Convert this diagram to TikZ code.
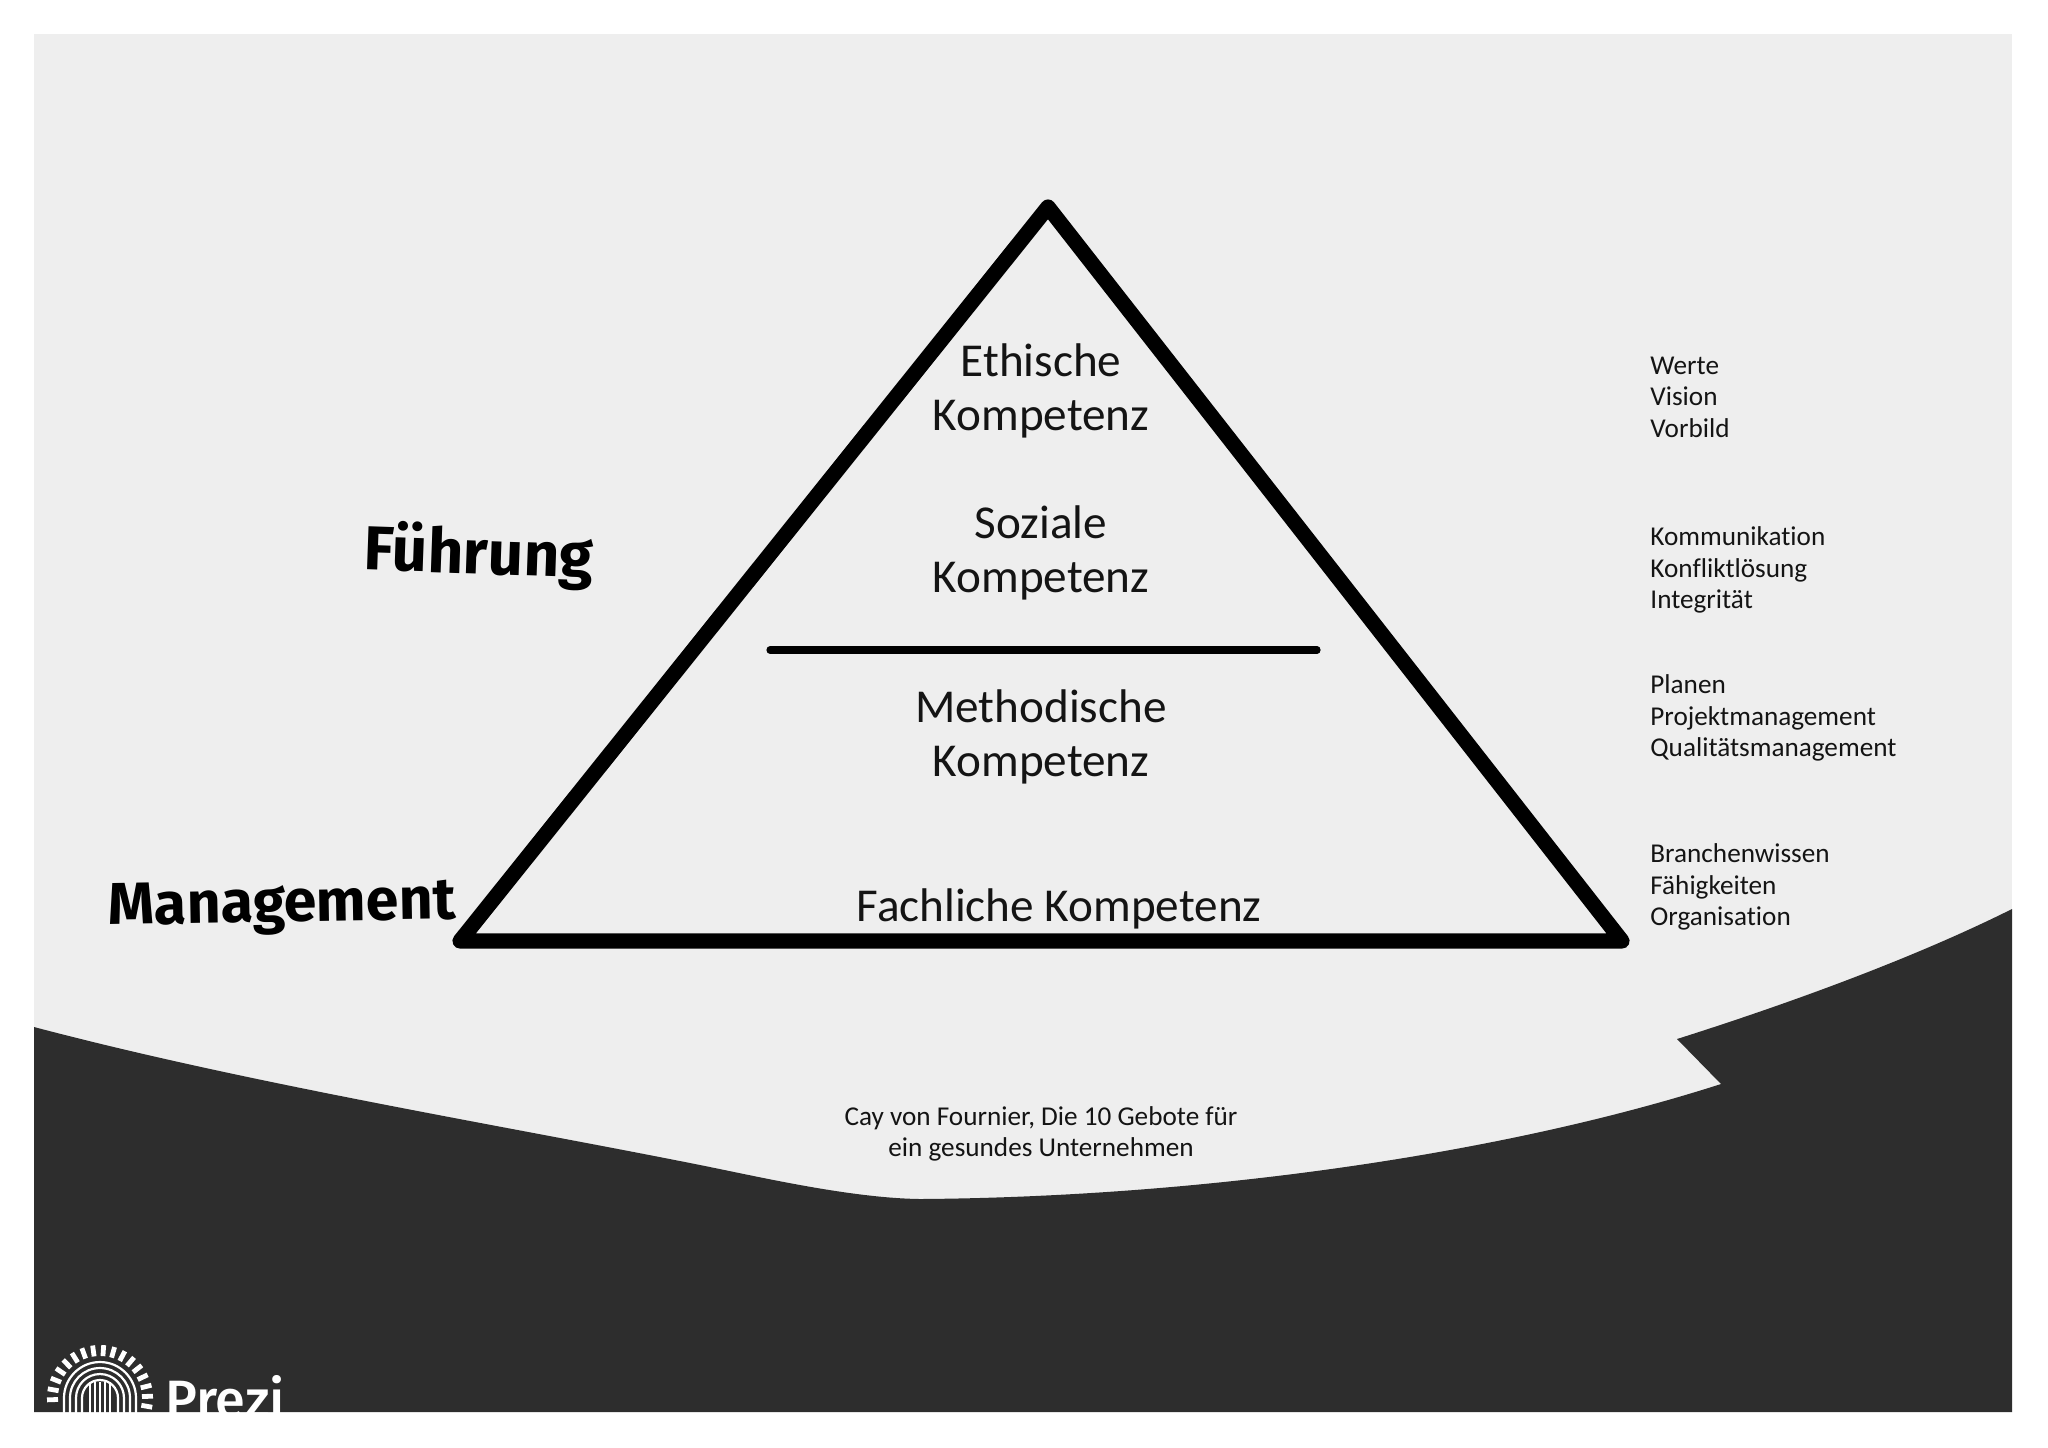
\documentclass[tikz,border=0pt]{standalone}
\usepackage{fontspec}
\setmainfont{Carlito}[Ligatures=NoCommon]
\newfontfamily\handfont{Fira Sans}[UprightFont=* Bold]
\newfontfamily\logofont{Fira Sans}[UprightFont=* Medium]
\definecolor{panel}{HTML}{EEEEEE}
\definecolor{darkband}{HTML}{2D2D2D}
\definecolor{ink}{HTML}{141414}
\tikzset{
  x=0.5pt,y=-0.5pt,
  bigtext/.style={align=center,text=ink,font=\fontsize{23.6}{27.2}\selectfont,inner sep=0pt},
  sidetext/.style={align=left,anchor=west,text=ink,font=\fontsize{13.6}{15.7}\selectfont,inner sep=0pt},
  captext/.style={align=center,text=ink,font=\fontsize{13.6}{15.7}\selectfont,inner sep=0pt},
  handfuehr/.style={text=black,font=\handfont\fontsize{31}{34}\selectfont,inner sep=0pt},
  handmgmt/.style={text=black,font=\handfont\fontsize{29.5}{32}\selectfont,inner sep=0pt},
  pyr/.style={draw=black,line width=7.6pt,line join=round,line cap=round},
}
\begin{document}
\begin{tikzpicture}
\useasboundingbox (0,0) rectangle (2048,1447);
\fill[white] (0,0) rectangle (2048,1447);
\fill[panel] (34,34) rectangle (2012,1412);
% dark band
\fill[darkband] (34,1027) .. controls (250,1084) and (500,1125) .. (700,1165)
  .. controls (760,1177) and (850,1198) .. (920,1199)
  .. controls (1200,1197) and (1500,1155) .. (1721,1084)
  -- (1677,1039) .. controls (1800,1000) and (1920,955) .. (2012,909)
  -- (2012,1412) -- (34,1412) -- cycle;
% logo
\begin{scope}
\clip (34,1300) rectangle (2012,1412);
\foreach \a in {-10,2,...,190}{
  \draw[white,line width=2.4pt] ({100+42*cos(\a)},{1398-42*sin(\a)}) -- ({100+53*cos(\a)},{1398-53*sin(\a)});
}
\foreach \r in {36,30,24,18}{
  \draw[white,line width=1.1pt] ({100-\r},1420) -- ({100-\r},1398) arc[start angle=180,end angle=0,radius=\r*0.5pt] -- ({100+\r},1420);
}
\foreach \d in {-10,-5,0,5,10}{
  \draw[white,line width=1.3pt] ({100+\d},1420) -- ({100+\d},1382);
}
\node[anchor=base west,text=white,font=\logofont\fontsize{27}{30}\selectfont,inner sep=0pt] (logotext) at (165,1418) {Prezi};
\end{scope}
% pyramid
\coordinate (apex) at (1048,207);
\coordinate (bl) at (460,941);
\coordinate (br) at (1622,941);
\coordinate (dl) at (770,650);
\coordinate (dr) at (1317,650);
\draw[pyr] (apex) -- (br) -- (bl) -- cycle;
\draw[black,line width=3.6pt,line cap=round] (dl) -- (dr);
% pyramid texts
\node[bigtext] (eth) at (1041,391) {Ethische\\Kompetenz};
\node[bigtext] (soz) at (1041,553) {Soziale\\Kompetenz};
\node[bigtext] (met) at (1041,737) {Methodische\\Kompetenz};
\node[bigtext] (fach) at (1059,909) {Fachliche Kompetenz};
% side lists
\node[sidetext] (s1) at (1650,397) {Werte\\Vision\\Vorbild};
\node[sidetext] (s2) at (1650,570) {Kommunikation\\Konfliktlösung\\Integrität};
\node[sidetext] (s3) at (1650,718) {Planen\\Projektmanagement\\Qualitätsmanagement};
\node[sidetext] (s4) at (1650,887) {Branchenwissen\\Fähigkeiten\\Organisation};
\node[captext] (cap) at (1041,1134) {Cay von Fournier, Die 10 Gebote für\\ein gesundes Unternehmen};
% hand labels
\node[handfuehr,rotate=-2] (fuehrung) at (479,556) {Führung};
\node[handmgmt,rotate=1] (mgmt) at (282,908) {Management};
\end{tikzpicture}
\end{document}
